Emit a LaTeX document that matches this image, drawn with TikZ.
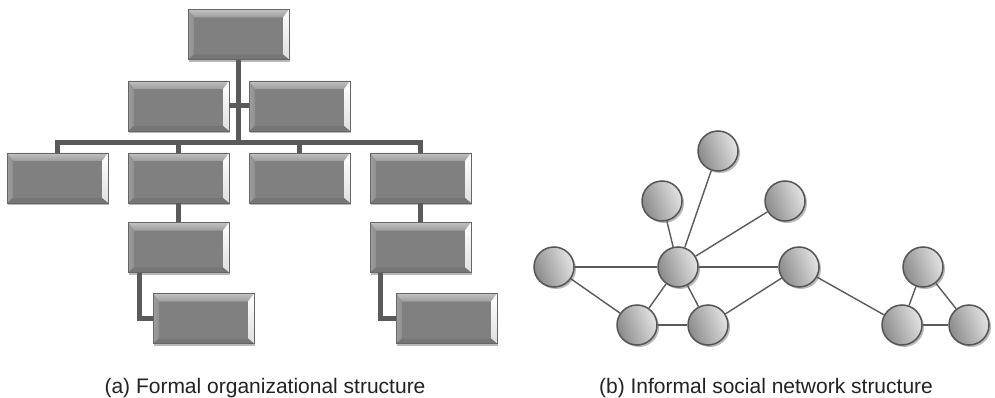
\documentclass[tikz,border=0pt]{standalone}
\usepackage{fontspec}
\setmainfont{Liberation Sans}
\usetikzlibrary{shadows}

\definecolor{boxface}{HTML}{808080}
\definecolor{bevtop}{HTML}{C2C2C2}
\definecolor{bevtopin}{HTML}{9C9C9C}
\definecolor{bevleft}{HTML}{8E8E8E}
\definecolor{bevbot}{HTML}{767676}
\definecolor{linkgray}{HTML}{5A5A5A}
\definecolor{rimgray}{HTML}{555555}
\definecolor{balldark}{HTML}{8A8A8A}
\definecolor{ballmid}{HTML}{D2D2D2}
\definecolor{balllight}{HTML}{E4E4E4}
\definecolor{captext}{HTML}{222222}

\tikzset{
  x=1pt, y=-1pt,
  % beveled box of the organisation chart
  orgbox/.style={rectangle, inner sep=0pt, minimum width=101pt, minimum height=50pt,
    fill=boxface, draw=boxface!80!black, line width=0.5pt,
    drop shadow={shadow xshift=1.2pt, shadow yshift=-2.2pt, opacity=0.28, fill=black},
    path picture={
      \coordinate (bA) at (path picture bounding box.north west);
      \coordinate (bB) at (path picture bounding box.north east);
      \coordinate (bC) at (path picture bounding box.south east);
      \coordinate (bD) at (path picture bounding box.south west);
      \coordinate (ba) at ([shift={(6pt,-8pt)}]bA);
      \coordinate (bb) at ([shift={(-6pt,-8pt)}]bB);
      \coordinate (bc) at ([shift={(-6pt,5pt)}]bC);
      \coordinate (bd) at ([shift={(6pt,5pt)}]bD);
      \shade[top color=bevtop, bottom color=bevtopin] (bA) -- (bB) -- (bb) -- (ba) -- cycle;
      \shade[left color=bevleft!85!white, right color=bevleft] (bA) -- (ba) -- (bd) -- (bD) -- cycle;
      \shade[top color=white, bottom color=white!75!gray] (bB) -- (bC) -- (bc) -- (bb) -- cycle;
      \fill[bevbot] (bD) -- (bd) -- (bc) -- (bC) -- cycle;
    }},
  orglink/.style={draw=linkgray, line width=5pt, line join=miter},
  % shaded person of the social network
  netnode/.style={circle, minimum size=40pt, inner sep=0pt,
    draw=rimgray, line width=1.5pt,
    left color=balldark, middle color=ballmid, right color=balllight, shading angle=110,
    drop shadow={shadow xshift=2pt, shadow yshift=-2pt, opacity=0.45, fill=black!60}},
  netlink/.style={draw=linkgray, line width=1.4pt},
  caption/.style={font=\fontsize{21}{25}\selectfont, text=captext, anchor=base, inner sep=0pt}
}

\begin{document}
\begin{tikzpicture}
\useasboundingbox[fill=white] (0,0) rectangle (995,398);

% ---------- (a) formal organisation chart ----------
\coordinate (hub) at (238.5,143);

\node[orgbox] (t)   at (238.5,34.5) {};
\node[orgbox] (l2a) at (178.5,106) {};
\node[orgbox] (l2b) at (299.5,106) {};
\node[orgbox] (l3a) at (57.5,178) {};
\node[orgbox] (l3b) at (178.5,178) {};
\node[orgbox] (l3c) at (299.5,178) {};
\node[orgbox] (l3d) at (420.5,178) {};
\node[orgbox] (l4a) at (178.5,247.5) {};
\node[orgbox] (l4b) at (420.5,247.5) {};
\node[orgbox] (l5a) at (203.5,318.5) {};
\node[orgbox] (l5b) at (446.5,318.5) {};

% reporting lines, drawn in the gaps between the boxes
\path[orglink] (t.south) -- (hub);
\path[orglink] (l2a.east) -- (l2b.west);
\path[orglink] (l3a.north) |- (hub) -| (l3d.north);
\path[orglink] (l3b.north) -- (l3b.north |- hub);
\path[orglink] (l3c.north) -- (l3c.north |- hub);
\path[orglink] (l3b.south) -- (l4a.north);
\path[orglink] (l3d.south) -- (l4b.north);
\path[orglink] ([xshift=12pt]l4a.south west) |- (l5a.west);
\path[orglink] ([xshift=11pt]l4b.south west) |- (l5b.west);

\node[caption] (capa) at (265,393.5) {(a) Formal organizational structure};

% ---------- (b) informal social network ----------
\node[netnode] (ntop) at (718,151) {};
\node[netnode] (nul)  at (662,201) {};
\node[netnode] (nur)  at (785,201) {};
\node[netnode] (nlft) at (554,267) {};
\node[netnode] (nctr) at (678,267) {};
\node[netnode] (nmid) at (799,267) {};
\node[netnode] (nbl)  at (637,325) {};
\node[netnode] (nbm)  at (708,325) {};
\node[netnode] (nrt)  at (923,267) {};
\node[netnode] (nrbl) at (902,325) {};
\node[netnode] (nrbr) at (969,325) {};

% ties between people, ending at the circle rims
\path[netlink] (nlft) -- (nctr);
\path[netlink] (nctr) -- (nmid);
\path[netlink] (nlft) -- (nbl);
\path[netlink] (nctr) -- (nul);
\path[netlink] (nctr) -- (ntop);
\path[netlink] (nctr) -- (nur);
\path[netlink] (nctr) -- (nbl);
\path[netlink] (nctr) -- (nbm);
\path[netlink] (nbl) -- (nbm);
\path[netlink] (nbm) -- (nmid);
\path[netlink] (nmid) -- (nrbl);
\path[netlink] (nrt) -- (nrbl);
\path[netlink] (nrt) -- (nrbr);
\path[netlink] (nrbl) -- (nrbr);

\node[caption] (capb) at (766,393.5) {(b) Informal social network structure};
\end{tikzpicture}
\end{document}
